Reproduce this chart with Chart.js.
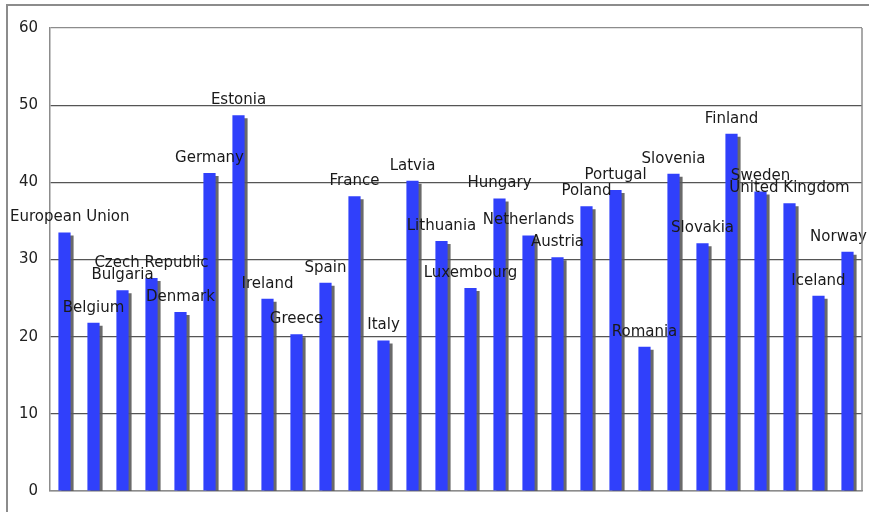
<!DOCTYPE html>
<html>
<head>
<meta charset="utf-8">
<script src="https://cdn.jsdelivr.net/npm/chart.js@4/dist/chart.umd.min.js"></script>
<style>
  html, body { margin: 0; padding: 0; background: #fff; overflow: hidden; }
  #wrap { position: relative; width: 869px; height: 512px; }
  #frame {
    position: absolute; left: 6px; top: 4px; width: 900px; height: 600px;
    border: 2px solid #8c8c8c; box-sizing: border-box;
  }
  #chart { position: absolute; left: 0; top: 0; }
</style>
</head>
<body>
<div id="wrap">
  <div id="frame"></div>
  <canvas id="chart" width="869" height="512"></canvas>
</div>
<script>
const countries = [
  "European Union", "Belgium", "Bulgaria", "Czech Republic", "Denmark",
  "Germany", "Estonia", "Ireland", "Greece", "Spain", "France", "Italy",
  "Latvia", "Lithuania", "Luxembourg", "Hungary", "Netherlands", "Austria",
  "Poland", "Portugal", "Romania", "Slovenia", "Slovakia", "Finland",
  "Sweden", "United Kingdom", "Iceland", "Norway"
];
const shares = [
  33.5, 21.8, 26.0, 27.6, 23.2,
  41.2, 48.7, 24.9, 20.3, 27.0, 38.2, 19.5,
  40.2, 32.4, 26.3, 37.9, 33.1, 30.3,
  36.9, 39.0, 18.7, 41.1, 32.1, 46.3,
  38.8, 37.3, 25.3, 31.0
];
const yTicks = [0, 10, 20, 30, 40, 50, 60];

const FONT = "DejaVu Sans, Verdana, sans-serif";

// gray drop shadow to the lower right of each bar
const barShadow = {
  id: "barShadow",
  beforeDatasetDraw(chart) {
    const { ctx } = chart;
    ctx.save();
    ctx.shadowColor = "rgba(90, 90, 90, 0.9)";
    ctx.shadowOffsetX = 3;
    ctx.shadowOffsetY = 3;
    ctx.shadowBlur = 0;
  },
  afterDatasetDraw(chart) {
    chart.ctx.restore();
  }
};

// country name above each bar, kept inside the canvas
const barNames = {
  id: "barNames",
  afterDraw(chart) {
    const { ctx } = chart;
    const meta = chart.getDatasetMeta(0);
    ctx.save();
    ctx.font = "15px " + FONT;
    ctx.fillStyle = "#1a1a1a";
    ctx.textBaseline = "middle";
    ctx.textAlign = "left";
    meta.data.forEach((bar, i) => {
      const text = countries[i];
      const w = ctx.measureText(text).width;
      let x = bar.x - w / 2;
      x = Math.max(10, Math.min(x, chart.width - 2 - w));
      ctx.fillText(text, x, bar.y - 15);
    });
    ctx.restore();
  }
};

new Chart(document.getElementById("chart"), {
  type: "bar",
  data: {
    labels: countries,
    datasets: [{
      data: shares,
      backgroundColor: "#3040fb",
      borderWidth: 0,
      barPercentage: 0.42,
      categoryPercentage: 1
    }]
  },
  options: {
    responsive: false,
    animation: false,
    events: [],
    layout: { padding: { top: 28, right: 7, bottom: 20, left: 0 } },
    plugins: { legend: { display: false }, tooltip: { enabled: false } },
    scales: {
      x: {
        display: true,
        grid: { display: false, drawTicks: false },
        border: { display: true, color: "#8c8c8c", width: 1.5 },
        ticks: { display: false }
      },
      y: {
        min: 0,
        max: 60,
        afterFit(scale) { scale.width = 50; },
        afterBuildTicks(scale) { scale.ticks = yTicks.map(v => ({ value: v })); },
        ticks: { color: "#222", font: { family: FONT, size: 15 }, padding: 12 },
        grid: {
          drawTicks: false,
          color: (c) => (c.tick.value === 0 || c.tick.value === 60) ? "#8c8c8c" : "#555",
          lineWidth: 1.2
        },
        border: { display: true, color: "#8c8c8c", width: 1.5 }
      }
    }
  },
  plugins: [barShadow, barNames, {
    id: "plotRightEdge",
    afterDraw(chart) {
      const { ctx, chartArea } = chart;
      ctx.save();
      ctx.strokeStyle = "#8c8c8c";
      ctx.lineWidth = 1.5;
      ctx.beginPath();
      ctx.moveTo(chartArea.right, chartArea.top);
      ctx.lineTo(chartArea.right, chartArea.bottom);
      ctx.stroke();
      ctx.restore();
    }
  }]
});
</script>
</body>
</html>
